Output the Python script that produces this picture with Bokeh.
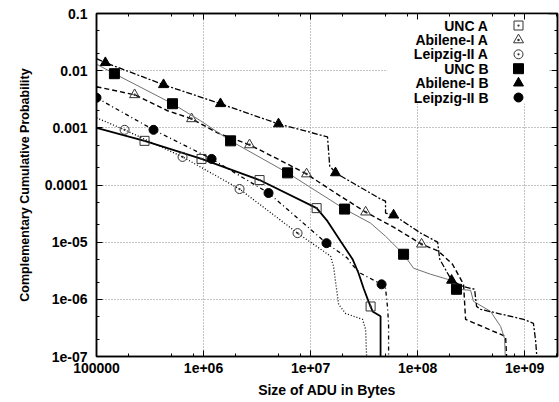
from bokeh.plotting import figure
from bokeh.models import FixedTicker, LogAxis, Range1d, LinearScale
from bokeh.embed import file_html
from bokeh.resources import INLINE
from bokeh.core.properties import value

# ---- axis ticks -----------------------------------------------------------
x_ticks = [1e5, 1e6, 1e7, 1e8, 1e9]
x_tick_labels = ["100000", "1e+06", "1e+07", "1e+08", "1e+09"]
y_ticks = [1e-7, 1e-6, 1e-5, 1e-4, 1e-3, 1e-2, 1e-1]
y_tick_labels = ["1e-07", "1e-06", "1e-05", "0.0001", "0.001", "0.01", "0.1"]

# ---- CCDF of ADU sizes (bytes -> P[X > x]) --------------------------------
unc_a_x = [1.0e5, 2.81e5, 9.58e5, 3.34e6, 1.14e7, 1.44e7, 1.91e7, 2.47e7, 2.81e7,
           3.13e7, 3.48e7, 3.80e7, 4.51e7, 4.51e7]
unc_a_y = [1.0e-3, 5.92e-4, 2.86e-4, 1.22e-4, 3.94e-5, 2.33e-5, 1.04e-5, 5.04e-6, 2.86e-6,
           1.56e-6, 9.2e-7, 6.15e-7, 5.04e-7, 1.0e-7]
unc_a_px = [2.81e5, 9.58e5, 3.34e6, 1.14e7, 3.64e7]
unc_a_py = [5.92e-4, 2.86e-4, 1.22e-4, 3.94e-5, 7.5e-7]

abil_a_x = [1.0e5, 2.27e5, 4.61e5, 7.73e5, 1.35e6, 2.69e6, 4.92e6, 9.18e6, 1.71e7,
            3.27e7, 5.97e7, 1.09e8, 1.57e8, 2.12e8, 2.69e8, 2.81e8, 6.64e8, 6.79e8]
abil_a_y = [5.24e-3, 3.79e-3, 1.99e-3, 1.44e-3, 8.17e-4, 5.04e-4, 2.86e-4, 1.56e-4, 7.24e-5,
            3.36e-5, 1.83e-5, 9.23e-6, 6.95e-6, 4.11e-6, 1.83e-6, 4.46e-7, 2.24e-7, 1.0e-7]
abil_a_px = [2.27e5, 7.73e5, 2.69e6, 9.18e6, 3.27e7, 1.09e8]
abil_a_py = [3.79e-3, 1.44e-3, 5.04e-4, 1.56e-4, 3.36e-5, 9.23e-6]

leip_a_x = [1.0e5, 1.83e5, 6.37e5, 2.17e6, 7.56e6, 1.54e7, 1.64e7, 1.71e7, 1.83e7,
            2.12e7, 3.06e7, 3.27e7, 3.34e7]
leip_a_y = [1.50e-3, 9.23e-4, 3.10e-4, 8.51e-5, 1.44e-5, 5.68e-6, 3.79e-6, 2.07e-6, 8.17e-7,
            5.68e-7, 4.46e-7, 2.98e-7, 1.0e-7]
leip_a_px = [1.83e5, 6.37e5, 2.17e6, 7.56e6]
leip_a_py = [9.23e-4, 3.10e-4, 8.51e-5, 1.44e-5]

unc_b_x = [1.0e5, 1.47e5, 5.13e5, 9.38e5, 1.79e6, 6.10e6, 2.08e7, 3.64e7, 5.02e7, 7.40e7,
           9.18e7, 1.32e8, 1.91e8, 2.31e8, 3.13e8, 3.33e8, 4.81e8, 5.97e8, 6.50e8, 6.60e8]
unc_b_y = [1.30e-2, 8.85e-3, 2.64e-3, 1.33e-3, 5.92e-4, 1.63e-4, 3.79e-5, 2.15e-5, 1.27e-5, 6.15e-6,
           3.50e-6, 2.75e-6, 2.24e-6, 1.50e-6, 1.44e-6, 9.23e-7, 6.15e-7, 3.36e-7, 2.07e-7, 1.0e-7]
unc_b_px = [1.47e5, 5.13e5, 1.79e6, 6.10e6, 2.08e7, 7.40e7, 2.31e8]
unc_b_py = [8.85e-3, 2.64e-3, 5.92e-4, 1.63e-4, 3.79e-5, 6.15e-6, 1.50e-6]

abil_b_x = [1.0e5, 1.21e5, 4.23e5, 1.44e6, 5.02e6, 1.44e7, 1.51e7, 1.71e7, 4.51e7, 5.02e7,
            5.02e7, 5.97e7, 1.07e8, 1.54e8, 1.61e8, 2.08e8, 2.64e8, 3.41e8, 3.56e8, 3.88e8,
            9.79e8, 1.21e9, 1.27e9, 1.30e9]
abil_b_y = [1.63e-2, 1.38e-2, 5.68e-3, 2.64e-3, 1.17e-3, 6.95e-4, 2.15e-4, 1.63e-4, 5.68e-5, 5.24e-5,
            3.23e-5, 2.98e-5, 1.44e-5, 1.0e-5, 5.04e-6, 2.15e-6, 1.69e-6, 1.50e-6, 7.53e-7, 6.68e-7,
            4.46e-7, 3.79e-7, 1.83e-7, 1.0e-7]
abil_b_px = [1.21e5, 4.23e5, 1.44e6, 5.02e6, 1.71e7, 5.97e7, 2.08e8]
abil_b_py = [1.38e-2, 5.68e-3, 2.64e-3, 1.17e-3, 1.63e-4, 2.98e-5, 2.15e-6]

leip_b_x = [1.0e5, 3.41e5, 1.19e6, 4.05e6, 1.41e7, 2.22e7, 2.37e7, 2.93e7, 4.61e7, 5.02e7,
            5.25e7, 5.36e7, 5.36e7]
leip_b_y = [3.36e-3, 9.23e-4, 2.86e-4, 7.24e-5, 9.6e-6, 5.24e-6, 4.28e-6, 2.86e-6, 1.83e-6, 1.56e-6,
            6.95e-7, 3.64e-7, 1.0e-7]
leip_b_px = [1.0e5, 3.41e5, 1.19e6, 4.05e6, 1.41e7, 4.61e7]
leip_b_py = [3.36e-3, 9.23e-4, 2.86e-4, 7.24e-5, 9.6e-6, 1.83e-6]

series_names = ["UNC A", "Abilene-I A", "Leipzig-II A", "UNC B", "Abilene-I B", "Leipzig-II B"]

FONT_NAME = "Liberation Sans"
FONT_SIZE = "14px"

series = [
    dict(x=unc_a_x, y=unc_a_y, px=unc_a_px, py=unc_a_py,
         line=dict(line_color="black", line_width=1.8),
         mark=dict(marker="square_dot", size=9, line_color="#333333", fill_alpha=0, line_width=1)),
    dict(x=abil_a_x, y=abil_a_y, px=abil_a_px, py=abil_a_py,
         line=dict(line_color="black", line_width=1.4, line_dash="5 3"),
         mark=dict(marker="triangle_dot", size=10, line_color="#333333", fill_alpha=0, line_width=1)),
    dict(x=leip_a_x, y=leip_a_y, px=leip_a_px, py=leip_a_py,
         line=dict(line_color="black", line_width=1.3, line_dash="1 2"),
         mark=dict(marker="circle_dot", size=9, line_color="#333333", fill_alpha=0, line_width=1)),
    dict(x=unc_b_x, y=unc_b_y, px=unc_b_px, py=unc_b_py,
         line=dict(line_color="#707070", line_width=1.0),
         mark=dict(marker="square", size=10, line_color="black", fill_color="black")),
    dict(x=abil_b_x, y=abil_b_y, px=abil_b_px, py=abil_b_py,
         line=dict(line_color="black", line_width=1.3, line_dash="6 2 2 2"),
         mark=dict(marker="triangle", size=10, line_color="black", fill_color="black")),
    dict(x=leip_b_x, y=leip_b_y, px=leip_b_px, py=leip_b_py,
         line=dict(line_color="black", line_width=1.3, line_dash="4 3 1 3"),
         mark=dict(marker="circle", size=9, line_color="black", fill_color="black")),
]

FRAME_W, FRAME_H = 461, 343

p = figure(width=559, height=402, x_axis_type="log", y_axis_type="log",
           x_range=Range1d(1e5, 2.03e9), y_range=Range1d(1e-7, 0.1),
           output_backend="svg", toolbar_location=None,
           min_border_left=96, min_border_right=2, min_border_top=13, min_border_bottom=46)
p.background_fill_color = "white"
p.border_fill_color = "white"
p.outline_line_color = "black"
p.outline_line_width = 1.5

x_minor = [d * m for d in x_ticks for m in (2, 5, 8)]
y_minor = [d * m for d in y_ticks[:-1] for m in (2, 5)]
x_ticker = FixedTicker(ticks=x_ticks, minor_ticks=x_minor)
y_ticker = FixedTicker(ticks=y_ticks, minor_ticks=y_minor)

p.xaxis.ticker = x_ticker
p.yaxis.ticker = y_ticker
p.xaxis.major_label_overrides = {t: s for t, s in zip(x_ticks, x_tick_labels)}
p.yaxis.major_label_overrides = {t: s for t, s in zip(y_ticks, y_tick_labels)}

for ax in (p.xaxis[0], p.yaxis[0]):
    ax.axis_line_width = 1.5
    ax.major_tick_in = 6
    ax.major_tick_out = 0
    ax.minor_tick_in = 3
    ax.minor_tick_out = 0
    ax.major_tick_line_width = 1
    ax.major_label_text_font = FONT_NAME
    ax.major_label_text_font_style = "bold"
    ax.major_label_text_font_size = FONT_SIZE
    ax.major_label_text_color = "black"
    ax.axis_label_text_font = FONT_NAME
    ax.axis_label_text_font_style = "bold"
    ax.axis_label_text_font_size = FONT_SIZE
    ax.axis_label_text_color = "black"

p.xaxis.axis_label = "Size of ADU in Bytes"
p.yaxis.axis_label = "Complementary Cumulative Probability"
p.yaxis.axis_label_text_font_size = "12.5px"
p.xaxis.major_label_standoff = 6
p.yaxis.major_label_standoff = 9
p.xaxis.axis_label_standoff = 6
p.yaxis.axis_label_standoff = 10

# mirrored ticks on the top and right border
for side, ticker in (("above", x_ticker), ("right", y_ticker)):
    ax = LogAxis(ticker=ticker, major_label_text_font_size="0px", major_label_standoff=0,
                 axis_line_width=1.5, major_tick_in=6, major_tick_out=0,
                 minor_tick_in=3, minor_tick_out=0)
    ax.major_label_overrides = {t: "" for t in ticker.ticks}
    p.add_layout(ax, side)

for g, ticker in ((p.xgrid[0], x_ticker), (p.ygrid[0], y_ticker)):
    g.ticker = ticker
    g.grid_line_color = "#8a8a8a"
    g.grid_line_dash = "1 2"
    g.grid_line_width = 1

for s in series:
    p.line(s["x"], s["y"], **s["line"])
    p.scatter(s["px"], s["py"], **s["mark"])

# key in the upper right corner, placed in frame pixels
p.extra_x_ranges = {"key": Range1d(0, FRAME_W)}
p.extra_x_scales = {"key": LinearScale()}
p.extra_y_ranges = {"key": Range1d(FRAME_H, 0)}
p.extra_y_scales = {"key": LinearScale()}

p.quad(left=[291], right=[452], top=[0], bottom=[90], fill_color="white", line_alpha=0,
       x_range_name="key", y_range_name="key")

key_y = [12 + 14.4 * i for i in range(len(series_names))]
p.text(x=[392] * len(series_names), y=key_y, text=series_names,
       text_align="right", text_baseline="middle", text_font=value(FONT_NAME),
       text_font_style="bold", text_font_size="14px", text_color="black",
       x_range_name="key", y_range_name="key")
for s, ky in zip(series, key_y):
    p.scatter([422], [ky], x_range_name="key", y_range_name="key", **s["mark"])

open("out.html", "w").write(file_html(p, INLINE))
